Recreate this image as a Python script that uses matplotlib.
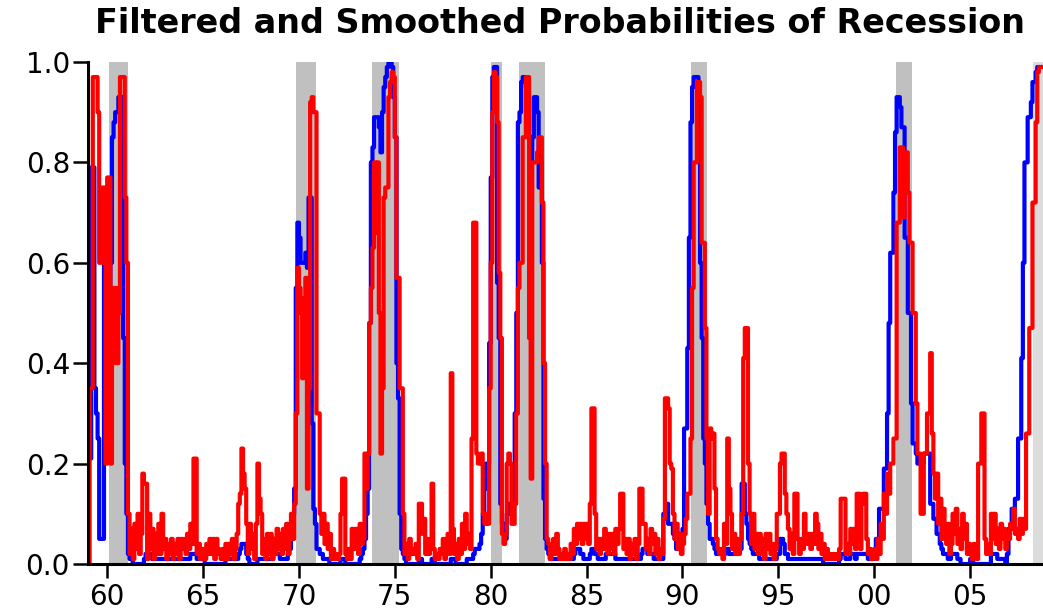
import numpy as np
import matplotlib
matplotlib.use("Agg")
import matplotlib.pyplot as plt

# ---------------- data (monthly, starting Jan 1959) ----------------
start_year = 1959

smoothed_1959_1969 = [
    0.21, 0.21, 0.79, 0.79, 0.35, 0.30, 0.25, 0.05, 0.05, 0.05, 0.64, 0.64,
    0.55, 0.55, 0.60, 0.85, 0.88, 0.90, 0.90, 0.93, 0.93, 0.93, 0.45, 0.20,
    0.10, 0.02, 0.01, 0.01, 0.00, 0.00, 0.00, 0.00, 0.00, 0.00, 0.00, 0.01,
    0.02, 0.02, 0.02, 0.02, 0.01, 0.01, 0.01, 0.01, 0.01, 0.01, 0.01, 0.01,
    0.01, 0.01, 0.01, 0.01, 0.01, 0.01, 0.01, 0.01, 0.01, 0.01, 0.01, 0.01,
    0.01, 0.01, 0.01, 0.01, 0.02, 0.02, 0.02, 0.02, 0.01, 0.01, 0.01, 0.01,
    0.01, 0.00, 0.00, 0.00, 0.00, 0.00, 0.00, 0.00, 0.00, 0.00, 0.00, 0.00,
    0.00, 0.00, 0.01, 0.01, 0.01, 0.01, 0.01, 0.01, 0.01, 0.01, 0.02, 0.03,
    0.04, 0.04, 0.04, 0.02, 0.01, 0.00, 0.00, 0.00, 0.00, 0.00, 0.01, 0.01,
    0.01, 0.01, 0.01, 0.01, 0.01, 0.01, 0.01, 0.01, 0.02, 0.02, 0.02, 0.02,
    0.01, 0.01, 0.01, 0.01, 0.01, 0.02, 0.03, 0.05, 0.10, 0.15, 0.55, 0.68,
]
filtered_1959_1969 = [
    0.00, 0.35, 0.35, 0.97, 0.97, 0.97, 0.90, 0.60, 0.60, 0.75, 0.75, 0.20,
    0.77, 0.77, 0.20, 0.40, 0.55, 0.55, 0.40, 0.50, 0.97, 0.97, 0.97, 0.73,
    0.60, 0.10, 0.02, 0.07, 0.01, 0.08, 0.03, 0.10, 0.02, 0.06, 0.18, 0.16,
    0.16, 0.01, 0.10, 0.03, 0.07, 0.01, 0.06, 0.02, 0.08, 0.02, 0.10, 0.03,
    0.05, 0.01, 0.04, 0.02, 0.05, 0.01, 0.04, 0.02, 0.05, 0.01, 0.05, 0.03,
    0.05, 0.02, 0.06, 0.03, 0.08, 0.04, 0.21, 0.21, 0.02, 0.04, 0.01, 0.03,
    0.03, 0.01, 0.04, 0.02, 0.05, 0.02, 0.05, 0.01, 0.05, 0.03, 0.02, 0.01,
    0.03, 0.01, 0.04, 0.01, 0.04, 0.02, 0.05, 0.01, 0.03, 0.06, 0.12, 0.14,
    0.23, 0.18, 0.15, 0.08, 0.02, 0.08, 0.03, 0.06, 0.01, 0.08, 0.20, 0.13,
    0.10, 0.02, 0.05, 0.01, 0.06, 0.02, 0.06, 0.01, 0.05, 0.02, 0.07, 0.03,
    0.06, 0.02, 0.07, 0.03, 0.08, 0.02, 0.06, 0.10, 0.05, 0.12, 0.30, 0.59,
]
smoothed_1970_1979 = [
    0.65, 0.60, 0.60, 0.60, 0.62, 0.59, 0.73, 0.73, 0.28, 0.11, 0.08, 0.03,
    0.03, 0.02, 0.02, 0.01, 0.01, 0.01, 0.01, 0.00, 0.00, 0.00, 0.00, 0.00,
    0.00, 0.00, 0.01, 0.01, 0.01, 0.00, 0.00, 0.00, 0.00, 0.00, 0.00, 0.00,
    0.00, 0.00, 0.01, 0.02, 0.03, 0.05, 0.10, 0.15, 0.48, 0.80, 0.83, 0.89,
    0.89, 0.89, 0.87, 0.82, 0.90, 0.95, 0.97, 0.99, 1.00, 1.00, 0.99, 0.93,
    0.85, 0.40, 0.33, 0.10, 0.03, 0.02, 0.01, 0.00, 0.00, 0.00, 0.00, 0.00,
    0.00, 0.00, 0.00, 0.01, 0.01, 0.00, 0.00, 0.00, 0.00, 0.00, 0.00, 0.01,
    0.01, 0.00, 0.00, 0.00, 0.00, 0.00, 0.00, 0.00, 0.00, 0.00, 0.00, 0.01,
    0.01, 0.01, 0.00, 0.00, 0.00, 0.00, 0.00, 0.00, 0.00, 0.01, 0.01, 0.01,
    0.01, 0.02, 0.03, 0.03, 0.03, 0.04, 0.06, 0.10, 0.15, 0.20, 0.20, 0.44,
]
filtered_1970_1979 = [
    0.55, 0.50, 0.37, 0.53, 0.57, 0.15, 0.35, 0.92, 0.93, 0.90, 0.90, 0.30,
    0.30, 0.10, 0.06, 0.10, 0.04, 0.08, 0.03, 0.06, 0.01, 0.03, 0.01, 0.02,
    0.01, 0.02, 0.10, 0.17, 0.17, 0.02, 0.01, 0.03, 0.01, 0.07, 0.03, 0.07,
    0.07, 0.02, 0.08, 0.04, 0.05, 0.22, 0.15, 0.22, 0.48, 0.55, 0.63, 0.80,
    0.66, 0.80, 0.50, 0.22, 0.35, 0.73, 0.75, 0.75, 0.93, 0.96, 0.98, 0.97,
    0.85, 0.57, 0.57, 0.35, 0.35, 0.10, 0.02, 0.04, 0.01, 0.05, 0.02, 0.03,
    0.02, 0.04, 0.01, 0.12, 0.12, 0.06, 0.09, 0.02, 0.05, 0.02, 0.04, 0.16,
    0.03, 0.01, 0.02, 0.01, 0.03, 0.02, 0.05, 0.01, 0.04, 0.06, 0.02, 0.38,
    0.07, 0.02, 0.04, 0.01, 0.05, 0.02, 0.08, 0.03, 0.10, 0.04, 0.06, 0.03,
    0.25, 0.68, 0.68, 0.22, 0.20, 0.20, 0.22, 0.10, 0.08, 0.10, 0.08, 0.35,
]
smoothed_1980_1989 = [
    0.77, 0.97, 0.99, 0.99, 0.56, 0.45, 0.12, 0.08, 0.08, 0.05, 0.10, 0.12,
    0.10, 0.10, 0.15, 0.30, 0.50, 0.88, 0.90, 0.96, 0.97, 0.97, 0.95, 0.93,
    0.85, 0.80, 0.85, 0.93, 0.93, 0.90, 0.75, 0.80, 0.60, 0.13, 0.05, 0.03,
    0.02, 0.01, 0.01, 0.01, 0.01, 0.01, 0.01, 0.01, 0.01, 0.01, 0.01, 0.01,
    0.01, 0.01, 0.01, 0.01, 0.02, 0.03, 0.03, 0.03, 0.02, 0.02, 0.01, 0.01,
    0.01, 0.01, 0.02, 0.03, 0.03, 0.02, 0.02, 0.01, 0.01, 0.01, 0.01, 0.01,
    0.02, 0.02, 0.02, 0.02, 0.02, 0.02, 0.01, 0.01, 0.01, 0.01, 0.01, 0.01,
    0.01, 0.01, 0.01, 0.01, 0.01, 0.01, 0.01, 0.01, 0.01, 0.01, 0.02, 0.03,
    0.03, 0.03, 0.02, 0.02, 0.02, 0.02, 0.01, 0.01, 0.01, 0.01, 0.01, 0.01,
    0.10, 0.10, 0.12, 0.08, 0.08, 0.08, 0.06, 0.05, 0.03, 0.03, 0.03, 0.04,
]
filtered_1980_1989 = [
    0.60, 0.90, 0.98, 0.97, 0.88, 0.58, 0.45, 0.06, 0.04, 0.06, 0.20, 0.22,
    0.20, 0.08, 0.08, 0.12, 0.30, 0.55, 0.60, 0.60, 0.85, 0.85, 0.97, 0.97,
    0.45, 0.17, 0.80, 0.80, 0.80, 0.82, 0.85, 0.85, 0.72, 0.40, 0.20, 0.05,
    0.04, 0.01, 0.03, 0.05, 0.02, 0.06, 0.03, 0.01, 0.02, 0.01, 0.03, 0.01,
    0.02, 0.01, 0.04, 0.02, 0.07, 0.04, 0.08, 0.05, 0.08, 0.04, 0.08, 0.05,
    0.08, 0.04, 0.12, 0.31, 0.31, 0.10, 0.03, 0.05, 0.02, 0.05, 0.03, 0.07,
    0.06, 0.02, 0.06, 0.03, 0.06, 0.02, 0.07, 0.04, 0.07, 0.14, 0.14, 0.03,
    0.05, 0.02, 0.05, 0.01, 0.04, 0.02, 0.05, 0.01, 0.04, 0.15, 0.15, 0.08,
    0.08, 0.03, 0.05, 0.02, 0.07, 0.04, 0.06, 0.02, 0.05, 0.01, 0.03, 0.02,
    0.09, 0.33, 0.33, 0.31, 0.20, 0.19, 0.10, 0.05, 0.08, 0.03, 0.06, 0.02,
]
smoothed_1990_1999 = [
    0.07, 0.27, 0.27, 0.43, 0.65, 0.88, 0.95, 0.97, 0.97, 0.97, 0.93, 0.60,
    0.45, 0.25, 0.20, 0.12, 0.08, 0.05, 0.05, 0.04, 0.03, 0.02, 0.02, 0.02,
    0.02, 0.02, 0.02, 0.03, 0.03, 0.02, 0.02, 0.02, 0.02, 0.02, 0.02, 0.03,
    0.03, 0.16, 0.16, 0.10, 0.08, 0.05, 0.04, 0.03, 0.02, 0.02, 0.02, 0.02,
    0.01, 0.01, 0.01, 0.01, 0.01, 0.01, 0.01, 0.01, 0.01, 0.01, 0.01, 0.02,
    0.02, 0.05, 0.05, 0.04, 0.02, 0.02, 0.01, 0.01, 0.01, 0.01, 0.01, 0.01,
    0.01, 0.01, 0.01, 0.01, 0.01, 0.01, 0.01, 0.01, 0.01, 0.01, 0.01, 0.01,
    0.01, 0.01, 0.01, 0.01, 0.00, 0.00, 0.00, 0.00, 0.00, 0.00, 0.00, 0.00,
    0.00, 0.00, 0.01, 0.02, 0.02, 0.02, 0.01, 0.01, 0.01, 0.02, 0.02, 0.02,
    0.01, 0.02, 0.02, 0.02, 0.02, 0.02, 0.02, 0.02, 0.01, 0.01, 0.01, 0.01,
]
filtered_1990_1999 = [
    0.04, 0.06, 0.09, 0.14, 0.14, 0.25, 0.55, 0.80, 0.80, 0.96, 0.96, 0.93,
    0.64, 0.64, 0.47, 0.25, 0.10, 0.27, 0.25, 0.26, 0.15, 0.05, 0.03, 0.02,
    0.03, 0.01, 0.08, 0.04, 0.25, 0.15, 0.10, 0.03, 0.06, 0.02, 0.05, 0.02,
    0.05, 0.10, 0.41, 0.47, 0.47, 0.20, 0.10, 0.04, 0.10, 0.03, 0.06, 0.02,
    0.06, 0.02, 0.05, 0.01, 0.06, 0.03, 0.06, 0.02, 0.04, 0.01, 0.03, 0.10,
    0.10, 0.20, 0.22, 0.22, 0.14, 0.10, 0.07, 0.03, 0.06, 0.02, 0.14, 0.14,
    0.05, 0.02, 0.05, 0.03, 0.10, 0.06, 0.04, 0.06, 0.03, 0.06, 0.04, 0.10,
    0.08, 0.03, 0.06, 0.02, 0.04, 0.01, 0.03, 0.01, 0.02, 0.01, 0.02, 0.01,
    0.02, 0.01, 0.03, 0.13, 0.13, 0.13, 0.02, 0.04, 0.02, 0.07, 0.04, 0.07,
    0.03, 0.14, 0.14, 0.03, 0.12, 0.14, 0.14, 0.05, 0.02, 0.03, 0.01, 0.02,
]
smoothed_2000_2008 = [
    0.02, 0.05, 0.05, 0.11, 0.11, 0.11, 0.19, 0.19, 0.30, 0.48, 0.62, 0.62,
    0.74, 0.86, 0.93, 0.93, 0.91, 0.87, 0.87, 0.65, 0.65, 0.50, 0.50, 0.32,
    0.24, 0.24, 0.22, 0.20, 0.20, 0.20, 0.20, 0.22, 0.22, 0.22, 0.22, 0.12,
    0.12, 0.09, 0.09, 0.06, 0.06, 0.04, 0.03, 0.02, 0.02, 0.02, 0.01, 0.01,
    0.02, 0.02, 0.02, 0.02, 0.01, 0.01, 0.00, 0.00, 0.00, 0.00, 0.00, 0.00,
    0.01, 0.01, 0.00, 0.00, 0.00, 0.00, 0.00, 0.00, 0.00, 0.00, 0.00, 0.00,
    0.00, 0.02, 0.02, 0.02, 0.02, 0.01, 0.01, 0.01, 0.01, 0.01, 0.00, 0.02,
    0.07, 0.07, 0.11, 0.11, 0.13, 0.13, 0.25, 0.25, 0.41, 0.60, 0.80, 0.80,
    0.89, 0.89, 0.92, 0.96, 0.96, 0.98, 0.99, 0.99, 0.99, 0.99,
]
filtered_2000_2008 = [
    0.03, 0.01, 0.05, 0.02, 0.08, 0.05, 0.14, 0.10, 0.18, 0.14, 0.20, 0.20,
    0.25, 0.25, 0.68, 0.68, 0.83, 0.83, 0.69, 0.82, 0.82, 0.74, 0.64, 0.64,
    0.50, 0.50, 0.32, 0.22, 0.22, 0.10, 0.10, 0.22, 0.22, 0.30, 0.30, 0.42,
    0.26, 0.18, 0.13, 0.18, 0.08, 0.13, 0.05, 0.11, 0.06, 0.04, 0.08, 0.02,
    0.04, 0.10, 0.06, 0.11, 0.04, 0.07, 0.03, 0.10, 0.05, 0.08, 0.02, 0.04,
    0.03, 0.01, 0.04, 0.02, 0.01, 0.20, 0.20, 0.30, 0.30, 0.05, 0.02, 0.04,
    0.02, 0.10, 0.05, 0.10, 0.04, 0.07, 0.03, 0.08, 0.05, 0.07, 0.03, 0.06,
    0.05, 0.08, 0.07, 0.11, 0.06, 0.07, 0.05, 0.09, 0.06, 0.09, 0.07, 0.26,
    0.26, 0.47, 0.47, 0.72, 0.72, 0.88, 0.98, 0.99, 0.99, 0.99,
]

recession_starts = [1960.12, 1969.84, 1973.80, 1980.00, 1981.50, 1990.43, 2001.12]
recession_ends   = [1961.11, 1970.90, 1975.24, 1980.58, 1982.83, 1991.30, 2001.98]
ongoing_recession_start = 2008.28

x_tick_years = [1960, 1965, 1970, 1975, 1980, 1985, 1990, 1995, 2000, 2005]
x_tick_labels = ["60", "65", "70", "75", "80", "85", "90", "95", "00", "05"]
y_ticks = [0.0, 0.2, 0.4, 0.6, 0.8, 1.0]
y_tick_labels = ["0.0", "0.2", "0.4", "0.6", "0.8", "1.0"]
title = "Filtered and Smoothed Probabilities of Recession"

# ---------------- assemble ----------------
smoothed = np.array(smoothed_1959_1969 + smoothed_1970_1979 + smoothed_1980_1989
                    + smoothed_1990_1999 + smoothed_2000_2008)
filtered = np.array(filtered_1959_1969 + filtered_1970_1979 + filtered_1980_1989
                    + filtered_1990_1999 + filtered_2000_2008)
n = len(smoothed)
x = start_year + np.arange(n + 1) / 12.0

W, H = 1043, 612
fig = plt.figure(figsize=(W / 100, H / 100), dpi=100)
ax = fig.add_axes([88 / W, 1 - 564 / H, (W - 88) / W, (564 - 62) / H])

for s, e in zip(recession_starts, recession_ends):
    ax.axvspan(s, e, color="#c0c0c0", lw=0, zorder=0)
ax.axvspan(ongoing_recession_start, 2010, color="#dcdcdc", lw=0, zorder=0)

ax.step(x, np.append(smoothed, smoothed[-1]), where="post",
        color="#0000ff", lw=3.0, zorder=2)
ax.step(x, np.append(filtered, filtered[-1]), where="post",
        color="#ff0000", lw=3.0, zorder=3)

ax.set_xlim(1959.0, 2008.8)
ax.set_ylim(0, 1)
ax.set_xticks(x_tick_years)
ax.set_xticklabels(x_tick_labels)
ax.set_yticks(y_ticks)
ax.set_yticklabels(y_tick_labels)

for side in ("top", "right"):
    ax.spines[side].set_visible(False)
for side in ("left", "bottom"):
    ax.spines[side].set_linewidth(2.2)
    ax.spines[side].set_color("black")
    ax.spines[side].set_zorder(5)

ax.tick_params(axis="x", direction="out", length=10, width=1.8,
               labelsize=20, pad=4, colors="black")
ax.tick_params(axis="y", direction="out", length=11, width=1.8,
               labelsize=20, pad=2, colors="black")
for lab in ax.get_xticklabels() + ax.get_yticklabels():
    lab.set_family("DejaVu Sans")

fig.text(560 / W, 1 - 33 / H, title, ha="center", va="baseline",
         fontsize=24, fontweight="bold", family="DejaVu Sans")

fig.savefig("out.png", dpi=100)
